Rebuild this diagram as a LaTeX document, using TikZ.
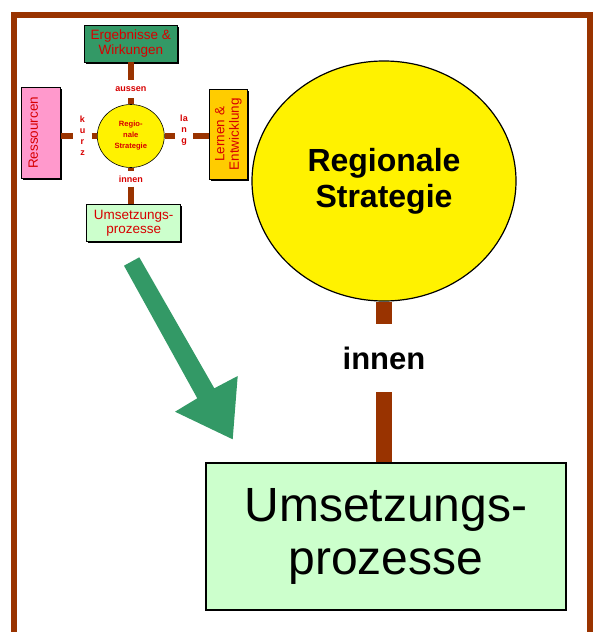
\documentclass[tikz,border=0pt]{standalone}
\usepackage{fontspec}
\setmainfont{Liberation Sans}
\usepackage{xcolor}
\usepackage{tikz}
\usetikzlibrary{shapes.geometric,shadows,calc}

\definecolor{rbrown}{HTML}{993300}
\definecolor{rgreen}{HTML}{339966}
\definecolor{rlgreen}{HTML}{CCFFCC}
\definecolor{rpink}{HTML}{FF99CC}
\definecolor{rorange}{HTML}{FFCC00}
\definecolor{rred}{RGB}{215,0,0}

\begin{document}
\begin{tikzpicture}[x=1pt,y=-1pt,
   sbox/.style={draw,line width=0.8pt,inner sep=0pt,text=rred,align=center,
     font=\fontsize{13.5}{14.5}\selectfont,
     drop shadow={shadow xshift=1.5pt,shadow yshift=-1.5pt,fill=black,opacity=1}},
   slbl/.style={text=rred,inner sep=0pt,align=center,font=\bfseries\fontsize{9}{11}\selectfont},
   sbar/.style={rbrown,line width=6pt},
   bbar/.style={rbrown,line width=16pt}]
  \useasboundingbox (0,0) rectangle (592,632);
  % frame
  \draw[rbrown,line width=6pt] (14,640) -- (14,14.5) -- (589.5,14.5) -- (589.5,640);
  % small diagram
  \node[ellipse,draw,fill=yellow,line width=0.6pt,minimum width=67pt,minimum height=63pt,
    inner sep=0pt,text=rred,align=center,font=\bfseries\fontsize{7.6}{11}\selectfont]
    (strat) at (130.8,136) {Regio-\\nale\\Strategie};
  \node[sbox,fill=rgreen,minimum width=93pt,minimum height=37pt] (erg) at (130.8,43.5) {Ergebnisse \&\\Wirkungen};
  \node[sbox,fill=rlgreen,minimum width=94pt,minimum height=37pt] (ums) at (133.7,223.3) {Umsetzungs-\\prozesse};
  \node[sbox,fill=rpink,minimum width=91pt,minimum height=39pt,rotate=90,text depth=16pt] (ress) at (41.2,132.8) {Ressourcen};
  \node[sbox,fill=rorange,minimum width=90pt,minimum height=38pt,rotate=90] (lern) at (228.3,134.3) {Lernen \&\\Entwicklung};
  \node[slbl,minimum height=18pt] (aus) at (130.8,89) {aussen};
  \node[slbl,minimum height=15pt] (inn) at (130.8,179) {innen};
  \node[slbl,minimum width=18pt] (kurz) at (82.5,135.5) {k\\u\\r\\z};
  \node[slbl,minimum width=18pt] (lang) at (184,130.5) {la\\n\\g};
  \draw[sbar] (erg) -- (aus);
  \draw[sbar] (aus) -- (strat);
  \draw[sbar] (strat) -- (inn);
  \draw[sbar] (inn) -- (inn |- ums.north);
  \draw[sbar] (ress.south |- strat) -- (kurz.west |- strat);
  \draw[sbar] (kurz.east |- strat) -- (strat.west);
  \draw[sbar] (strat.east) -- (lang.west |- strat);
  \draw[sbar] (lang.east |- strat) -- (lern.north |- strat);
  % big diagram
  \node[ellipse,draw,fill=yellow,line width=1.2pt,minimum width=264pt,minimum height=240pt,
    align=center,font=\bfseries\fontsize{32}{36}\selectfont] (big) at (384,181) {Regionale\\Strategie};
  \node[draw,fill=rlgreen,line width=2pt,minimum width=360pt,minimum height=147pt,
    align=center,font=\fontsize{48}{53}\selectfont] (proc) at (386,536.5) {Umsetzungs-\\prozesse};
  \node[inner sep=0pt,minimum height=68pt,font=\bfseries\fontsize{31}{36}\selectfont] (innl) at (384,358) {innen};
  \draw[bbar] (innl |- big.south) -- (innl.north);
  \draw[bbar] (innl.south) -- (innl |- proc.north);
  % green arrow
  \fill[rgreen] (124,265.7) -- (197.3,398.3) -- (175,411.7) -- (232.7,439.3)
    -- (237.7,376) -- (214.3,388.3) -- (139.3,257.3) -- cycle;
\end{tikzpicture}
\end{document}
